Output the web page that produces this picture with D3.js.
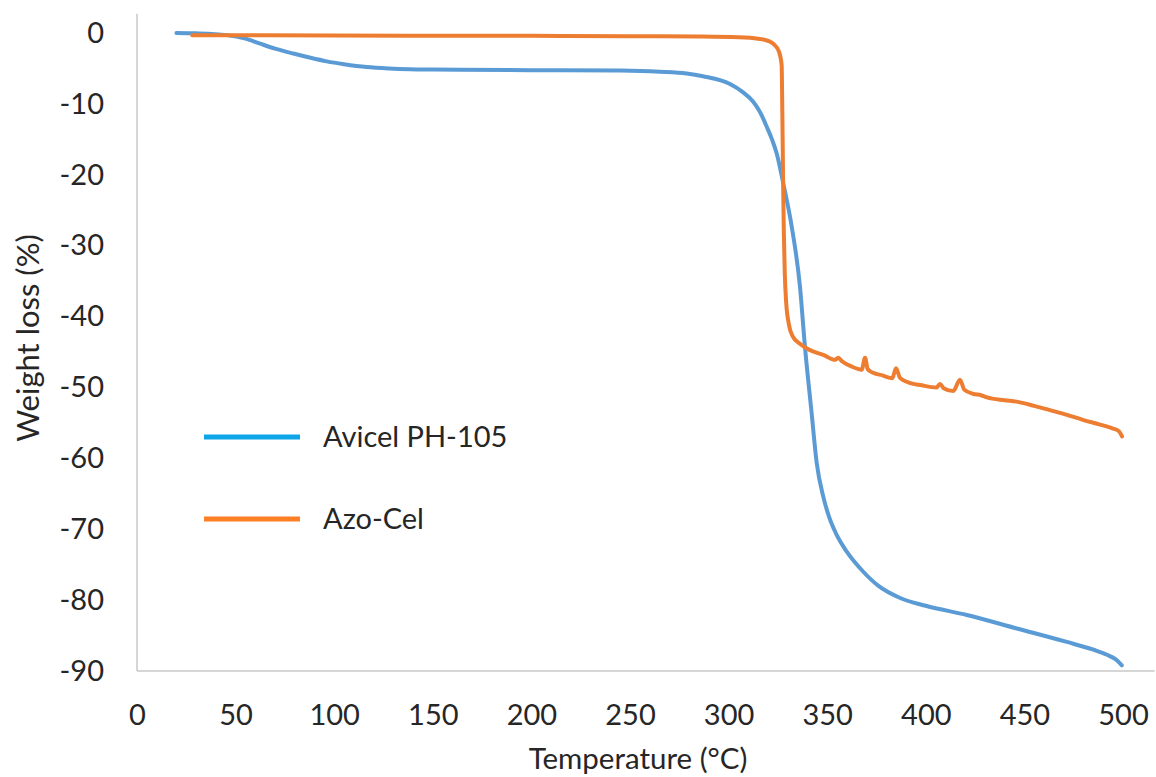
<!DOCTYPE html>
<html>
  <head>
    <title>TGA curves</title>
    <script src="https://d3js.org/d3.v7.min.js"></script>
    <style>
      body { margin: 0; background: #fff; }
      text { font-family: Lato, "Noto Sans", sans-serif; fill: #262626; }
    </style>
  </head>
  <body>
    <svg width="1156" height="777"></svg>
    <script>
      // Avicel PH-105 (blue)
      const avicelT = [20, 30, 45.5, 55, 62.4, 70, 79.3, 88, 96.2, 105, 116.5, 128, 138.4, 150, 163.8, 200, 245, 265, 278.7, 287, 300.7, 307, 312.5, 316, 319.3, 322, 324.4, 327.7, 332, 336.2, 338.7, 342.1, 344.7, 348, 351, 354.8, 360, 368.3, 376, 387, 400, 420.8, 446.2, 471.5, 485, 491.8, 496, 499.4];
      const avicelW = [0, -0.05, -0.3, -0.8, -1.5, -2.2, -2.9, -3.5, -4.0, -4.4, -4.8, -5.0, -5.1, -5.15, -5.2, -5.25, -5.3, -5.45, -5.7, -6.1, -7.2, -8.3, -9.7, -11.2, -13.2, -15.0, -17.0, -21.2, -27.3, -35.8, -44.2, -53.6, -60.7, -65.4, -68.3, -70.8, -73.2, -76.0, -78.0, -79.7, -80.8, -82.1, -84.0, -85.9, -87.0, -87.7, -88.3, -89.2];

      // Azo-Cel (orange)
      const azoT = [28, 50, 100, 150, 200, 250, 285, 305, 315, 320, 323, 325.5, 326.9, 327.2, 327.6, 328, 328.5, 329.2, 330.5, 332.5, 336, 341, 348, 354, 355.6, 357.5, 362, 367.5, 369.2, 370.5, 373, 378, 383, 384.9, 386.8, 390.3, 398, 405.5, 407.2, 409, 414, 417.3, 419.5, 424, 428, 431, 440, 446, 455, 463, 472, 480, 488, 495, 498, 499.5];
      const azoW = [-0.3, -0.3, -0.35, -0.4, -0.4, -0.45, -0.5, -0.6, -0.8, -1.1, -1.6, -2.6, -4.5, -10, -20, -28, -34, -38, -41, -42.8, -43.8, -44.7, -45.4, -46.1, -45.8, -46.3, -47.0, -47.5, -45.8, -47.4, -47.9, -48.3, -48.7, -47.3, -48.6, -49.2, -49.7, -50.0, -49.5, -50.1, -50.5, -48.9, -50.3, -50.9, -51.1, -51.4, -51.8, -52.0, -52.6, -53.2, -53.9, -54.6, -55.2, -55.8, -56.2, -56.9];

      const xTicks = [0, 50, 100, 150, 200, 250, 300, 350, 400, 450, 500];
      const yTicks = [0, -10, -20, -30, -40, -50, -60, -70, -80, -90];
      const seriesNames = ["Avicel PH-105", "Azo-Cel"];
      const lineColors = ["#5B9BD5", "#ED7D31"];
      const legendColors = ["#0EA5E9", "#FF7F27"];

      const svg = d3.select("svg");

      const x = d3.scaleLinear().domain([0, 500]).range([137, 1123]);
      const y = d3.scaleLinear().domain([-90, 0]).range([671, 33]);

      // axis lines
      svg.append("line")
        .attr("x1", x(0)).attr("x2", x(0))
        .attr("y1", y(2.7)).attr("y2", y(-90))
        .attr("stroke", "#c8c8c8").attr("stroke-width", 1.5);
      svg.append("line")
        .attr("x1", x(0)).attr("x2", x(516))
        .attr("y1", y(-90)).attr("y2", y(-90))
        .attr("stroke", "#c8c8c8").attr("stroke-width", 1.5);

      // tick labels (plain hyphen minus, as in the original)
      const fmt = d => String(d);
      const yAxis = svg.append("g")
        .attr("transform", `translate(${x(0) - 33},0)`)
        .call(d3.axisLeft(y).tickValues(yTicks).tickSize(0).tickPadding(0).tickFormat(fmt));
      yAxis.select(".domain").remove();
      yAxis.selectAll("text").attr("font-size", 29).attr("font-family", "Lato").attr("fill", "#262626");

      const xAxis = svg.append("g")
        .attr("transform", `translate(0,${y(-90) + 33})`)
        .call(d3.axisBottom(x).tickValues(xTicks).tickSize(0).tickPadding(0).tickFormat(fmt));
      xAxis.select(".domain").remove();
      xAxis.selectAll("text").attr("font-size", 29).attr("font-family", "Lato").attr("fill", "#262626");

      // axis titles
      svg.append("text")
        .attr("x", 638).attr("y", 769)
        .attr("text-anchor", "middle")
        .attr("font-size", 29.5)
        .text("Temperature (°C)");
      svg.append("text")
        .attr("transform", "translate(39,338) rotate(-90)")
        .attr("text-anchor", "middle")
        .attr("font-size", 31)
        .text("Weight loss (%)");

      const line = d3.line()
        .x(d => x(d[0]))
        .y(d => y(d[1]))
        .curve(d3.curveMonotoneX);

      const series = [d3.zip(avicelT, avicelW), d3.zip(azoT, azoW)];

      svg.selectAll("path.series")
        .data(series)
        .enter().append("path")
          .attr("class", "series")
          .attr("d", line)
          .attr("fill", "none")
          .attr("stroke", (d, i) => lineColors[i])
          .attr("stroke-width", 4)
          .attr("stroke-linejoin", "round")
          .attr("stroke-linecap", "round");

      // legend
      const legendY = [437, 519];
      const legend = svg.selectAll("g.legend")
        .data(seriesNames)
        .enter().append("g")
          .attr("class", "legend")
          .attr("transform", (d, i) => `translate(0,${legendY[i]})`);
      legend.append("line")
        .attr("x1", 204).attr("x2", 300)
        .attr("stroke", (d, i) => legendColors[i])
        .attr("stroke-width", 5);
      legend.append("text")
        .attr("x", 323).attr("y", 0)
        .attr("dy", "0.35em")
        .attr("font-size", 29)
        .text(d => d);
    </script>
  </body>
</html>
